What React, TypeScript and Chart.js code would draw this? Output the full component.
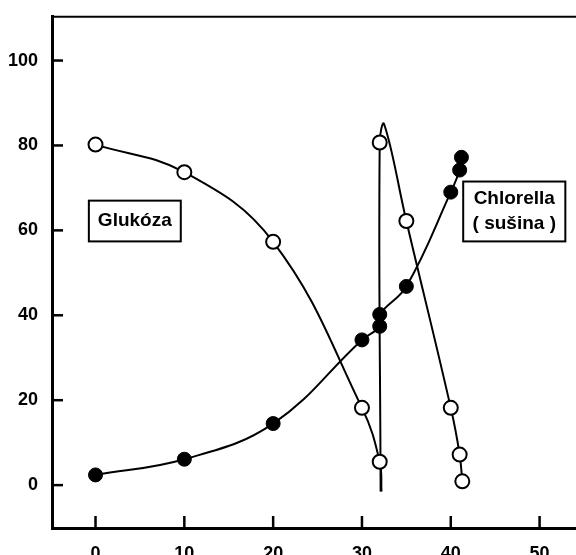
import { useEffect, useRef } from "react";
import { Chart, registerables } from "chart.js";

Chart.register(...registerables);

// Glucose, first feeding: measured points then the dip to exhaustion
const glucoseTime = [0, 10, 20, 30, 32, 32.2];
const glucoseValue = [80.2, 73.7, 57.3, 18.2, 5.5, -1.5];
const glucoseMeasured = [true, true, true, true, true, false];

// Glucose, second feeding at t = 32
const glucoseRefeedTime = [32.1, 32, 32.5, 35, 40, 41, 41.3];
const glucoseRefeedValue = [-1.5, 80.7, 85, 62.2, 18.2, 7.2, 0.9];
const glucoseRefeedMeasured = [false, true, false, true, true, true, true];

// Chlorella dry mass
const chlorellaTime = [0, 10, 20, 30, 32, 32, 35, 40, 41, 41.2];
const chlorellaValue = [2.4, 6.1, 14.5, 34.2, 37.4, 40.2, 46.8, 69, 74.2, 77.2];

const xTicks = [0, 10, 20, 30, 40, 50];
const yTicks = [0, 20, 40, 60, 80, 100];

const FONT = "'Liberation Sans', Arial, Helvetica, sans-serif";

const toPoints = (xs: number[], ys: number[]) => xs.map((x, i) => ({ x, y: ys[i] }));

const frameAndTicks = {
  id: "frameAndTicks",
  afterDraw(chart: any) {
    const { ctx, chartArea, scales } = chart;
    const xs = scales.x;
    const ys = scales.y;
    ctx.save();
    ctx.strokeStyle = "#000";
    // top frame line
    ctx.lineWidth = 2;
    ctx.beginPath();
    ctx.moveTo(chartArea.left, chartArea.top);
    ctx.lineTo(chart.width, chartArea.top);
    ctx.stroke();
    // inward ticks
    ctx.lineWidth = 2.5;
    for (const v of xTicks) {
      const px = xs.getPixelForValue(v);
      ctx.beginPath();
      ctx.moveTo(px, chartArea.bottom);
      ctx.lineTo(px, chartArea.bottom - 12);
      ctx.stroke();
    }
    for (const v of yTicks) {
      const py = ys.getPixelForValue(v);
      ctx.beginPath();
      ctx.moveTo(chartArea.left, py);
      ctx.lineTo(chartArea.left + 11, py);
      ctx.stroke();
    }
    ctx.restore();
  },
};

const boxLabels = {
  id: "boxLabels",
  afterDatasetsDraw(chart: any) {
    const { ctx, scales } = chart;
    const xs = scales.x;
    const ys = scales.y;
    const drawBox = (x0: number, x1: number, y0: number, y1: number, lines: string[], lineGap: number) => {
      const l = xs.getPixelForValue(x0);
      const r = xs.getPixelForValue(x1);
      const t = ys.getPixelForValue(y0);
      const b = ys.getPixelForValue(y1);
      ctx.save();
      ctx.fillStyle = "#fff";
      ctx.fillRect(l, t, r - l, b - t);
      ctx.strokeStyle = "#000";
      ctx.lineWidth = 2;
      ctx.strokeRect(l, t, r - l, b - t);
      ctx.fillStyle = "#000";
      ctx.font = `bold 19px ${FONT}`;
      ctx.textAlign = "center";
      ctx.textBaseline = "middle";
      const cx = (l + r) / 2;
      const cy = (t + b) / 2;
      const start = cy - ((lines.length - 1) * lineGap) / 2;
      lines.forEach((s, i) => ctx.fillText(s, cx, start + i * lineGap));
      ctx.restore();
    };
    drawBox(-0.75, 9.6, 67.0, 57.4, ["Glukóza"], 0);
    drawBox(41.4, 52.9, 71.5, 57.4, ["Chlorella", "( sušina )"], 25);
  },
};

export default function App() {
  const canvasRef = useRef<HTMLCanvasElement | null>(null);

  useEffect(() => {
    document.body.style.margin = "0";
    const canvas = canvasRef.current;
    if (!canvas) return;

    const openPoint = {
      pointBackgroundColor: "#fff",
      pointBorderColor: "#000",
      pointBorderWidth: 2,
    };

    const chart = new Chart(canvas, {
      type: "line",
      data: {
        datasets: [
          {
            data: toPoints(chlorellaTime, chlorellaValue),
            borderColor: "#000",
            borderWidth: 2,
            tension: 0.4,
            pointRadius: 7,
            pointBackgroundColor: "#000",
            pointBorderColor: "#000",
            pointBorderWidth: 1,
          },
          {
            data: toPoints(glucoseTime, glucoseValue),
            borderColor: "#000",
            borderWidth: 2,
            tension: 0.4,
            pointRadius: glucoseMeasured.map((m) => (m ? 7 : 0)),
            ...openPoint,
          },
          {
            data: toPoints(glucoseRefeedTime, glucoseRefeedValue),
            borderColor: "#000",
            borderWidth: 2,
            tension: 0.4,
            pointRadius: glucoseRefeedMeasured.map((m) => (m ? 7 : 0)),
            ...openPoint,
          },
        ],
      },
      options: {
        responsive: false,
        animation: false,
        layout: { autoPadding: false, padding: { top: 4, right: 0, left: 0, bottom: 0 } },
        plugins: {
          legend: { display: false },
          tooltip: { enabled: false },
        },
        scales: {
          x: {
            type: "linear",
            min: -4.9,
            max: 54.1,
            grid: { display: false },
            border: { display: true, color: "#000", width: 3 },
            afterBuildTicks: (s: any) => {
              s.ticks = xTicks.map((v) => ({ value: v }));
            },
            afterFit: (s: any) => {
              s.height = 27;
            },
            ticks: {
              color: "#000",
              padding: 7,
              maxRotation: 0,
              autoSkip: false,
              font: { family: FONT, size: 18, weight: "bold" },
            },
          },
          y: {
            type: "linear",
            min: -10.1,
            max: 110.3,
            grid: { display: false },
            border: { display: true, color: "#000", width: 3 },
            afterBuildTicks: (s: any) => {
              s.ticks = yTicks.map((v) => ({ value: v }));
            },
            afterFit: (s: any) => {
              s.width = 52;
            },
            ticks: {
              color: "#000",
              padding: 6,
              autoSkip: false,
              font: { family: FONT, size: 18, weight: "bold" },
            },
          },
        },
      },
      plugins: [frameAndTicks, boxLabels],
    } as any);

    return () => chart.destroy();
  }, []);

  return <canvas ref={canvasRef} width={576} height={555} style={{ display: "block" }} />;
}
